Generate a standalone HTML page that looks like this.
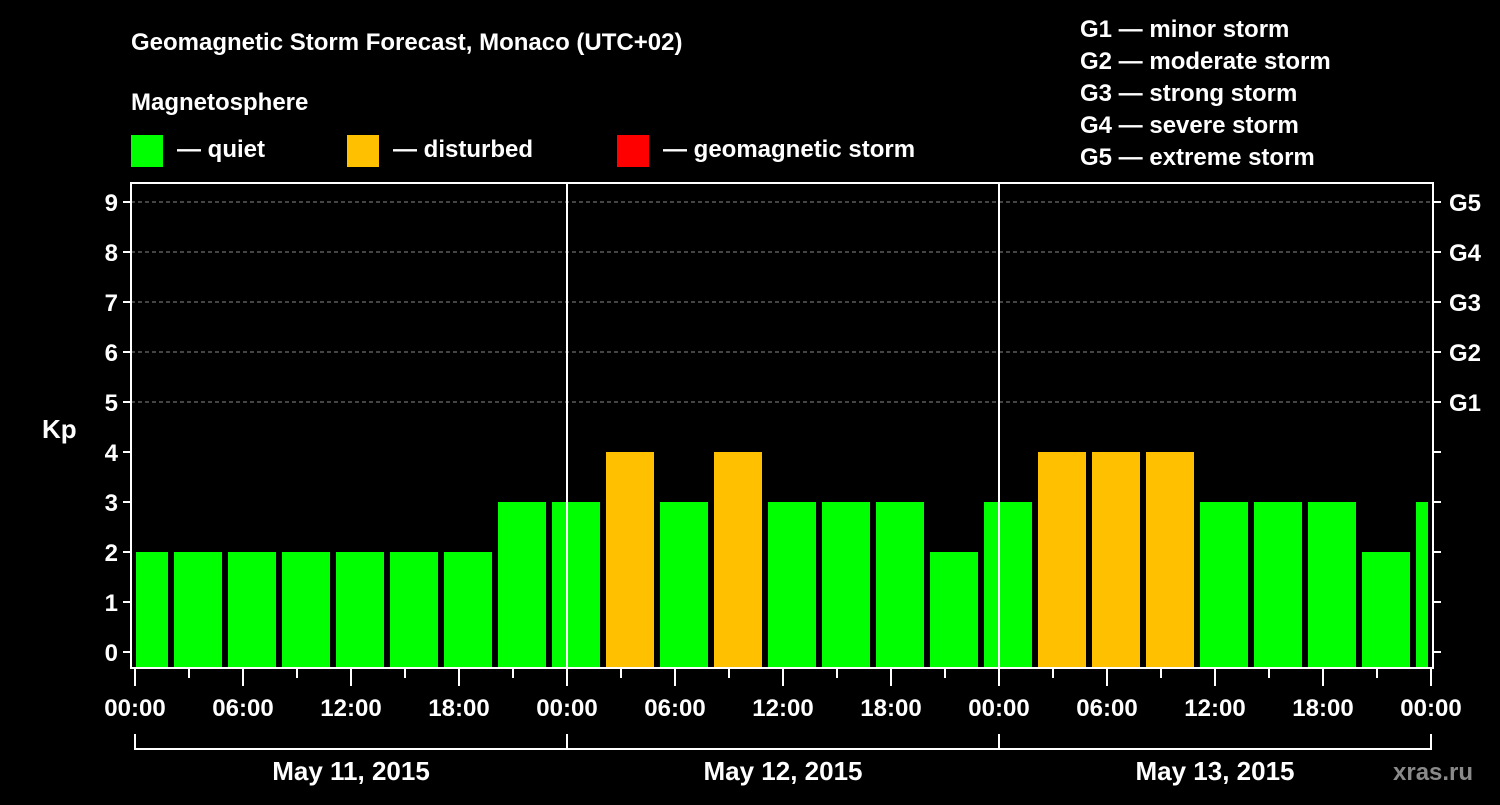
<!DOCTYPE html>
<html><head><meta charset="utf-8"><style>
html,body{margin:0;padding:0;background:#000;}
svg text{font-family:"Liberation Sans",Arial,sans-serif;font-weight:bold;fill:#fff;}
</style></head><body>
<svg id="chart" width="1500" height="800" viewBox="0 0 1500 800" xmlns="http://www.w3.org/2000/svg">
<rect width="1500" height="800" fill="#000"/>
<text x="131" y="50" font-size="24">Geomagnetic Storm Forecast, Monaco (UTC+02)</text>
<text x="131" y="110" font-size="24">Magnetosphere</text>
<g><rect x="131" y="135" width="32" height="32" fill="#00ff00"/><text x="177" y="157" font-size="24">— quiet</text></g>
<g><rect x="347" y="135" width="32" height="32" fill="#ffc000"/><text x="393" y="157" font-size="24">— disturbed</text></g>
<g><rect x="617" y="135" width="32" height="32" fill="#ff0000"/><text x="663" y="157" font-size="24">— geomagnetic storm</text></g>
<g font-size="24">
<text x="1080" y="37">G1 — minor storm</text>
<text x="1080" y="69">G2 — moderate storm</text>
<text x="1080" y="101">G3 — strong storm</text>
<text x="1080" y="133">G4 — severe storm</text>
<text x="1080" y="165">G5 — extreme storm</text>
</g>
<g id="grid"></g>
<g id="bars"></g>
<g id="axes"></g>
<text x="42" y="438" font-size="26">Kp</text>
<text x="1393" y="780" font-size="24" fill="#888" style="fill:#8a8a8a">xras.ru</text>
</svg>
<script>
const kpValues = [2,2,2,2,2,2,2,3,3,4,3,4,3,3,3,2,3,4,4,4,3,3,3,2,3];
const startHour = -1;
const dayLabels = ["May 11, 2015","May 12, 2015","May 13, 2015"];
const gLabels = ["G1","G2","G3","G4","G5"];
const timeLabels = ["00:00","06:00","12:00","18:00"];

const NS="http://www.w3.org/2000/svg";
const L=131,R=1433,T=183,B=668,X0=135,PXH=18;
const xOf=h=>X0+h*PXH;
const yOf=k=>652-50*k;
function mk(tag,attrs,parent){const e=document.createElementNS(NS,tag);for(const k in attrs)e.setAttribute(k,attrs[k]);parent.appendChild(e);return e;}
const grid=document.getElementById('grid'),bars=document.getElementById('bars'),axes=document.getElementById('axes');
for(let k=5;k<=9;k++){
  const l=mk('line',{x1:L,x2:R,y1:yOf(k),y2:yOf(k),stroke:'#888','stroke-width':1,'stroke-dasharray':'4,3'},grid);
  
  
}
kpValues.forEach((v,i)=>{
  const h0=startHour+3*i;
  let x1=Math.max(xOf(h0)+3,L+5), x2=Math.min(xOf(h0+3)-3,R-5);
  const c=v>=5?'#ff0000':(v>=4?'#ffc000':'#00ff00');
  const r=mk('rect',{x:x1,y:yOf(v),width:x2-x1,height:B-yOf(v),fill:c},bars);
  
  
});
// day separators
for(let d=1;d<dayLabels.length;d++){
  const l=mk('line',{x1:xOf(24*d),x2:xOf(24*d),y1:T,y2:B,stroke:'#fff','stroke-width':2},axes);
  
  
}
const frame=mk('rect',{x:L,y:T,width:R-L,height:B-T,fill:'none',stroke:'#fff','stroke-width':2},axes);


for(let k=0;k<=9;k++){
  mk('line',{x1:L-8,x2:L,y1:yOf(k),y2:yOf(k),stroke:'#fff','stroke-width':2},axes);
  mk('line',{x1:R,x2:R+8,y1:yOf(k),y2:yOf(k),stroke:'#fff','stroke-width':2},axes);
  const t=mk('text',{x:118,y:yOf(k)+9,'font-size':24,'text-anchor':'end'},axes);
  t.textContent=k;
  
  
}
gLabels.forEach((g,i)=>{
  const t=mk('text',{x:1449,y:yOf(5+i)+9,'font-size':24},axes);
  t.textContent=g;
  
  
});
const totalH=24*dayLabels.length;
for(let h=0;h<=totalH;h+=3){
  const major=h%6===0;
  mk('line',{x1:xOf(h),x2:xOf(h),y1:B,y2:major?686:678,stroke:'#fff','stroke-width':2},axes);
  if(major){
    const lbl=(h===totalH)?timeLabels[0]:timeLabels[(h%24)/6];
    const t=mk('text',{x:xOf(h),y:716,'font-size':24,'text-anchor':'middle'},axes);
    t.textContent=lbl;
    
    
  }
}
mk('line',{x1:xOf(0),x2:xOf(totalH),y1:749,y2:749,stroke:'#fff','stroke-width':2},axes);
for(let d=0;d<=dayLabels.length;d++){
  mk('line',{x1:xOf(24*d),x2:xOf(24*d),y1:734,y2:750,stroke:'#fff','stroke-width':2},axes);
}
dayLabels.forEach((s,d)=>{
  const t=mk('text',{x:xOf(24*d+12),y:780,'font-size':26,'text-anchor':'middle'},axes);
  t.textContent=s;
  
  
});
</script>
</body></html>
